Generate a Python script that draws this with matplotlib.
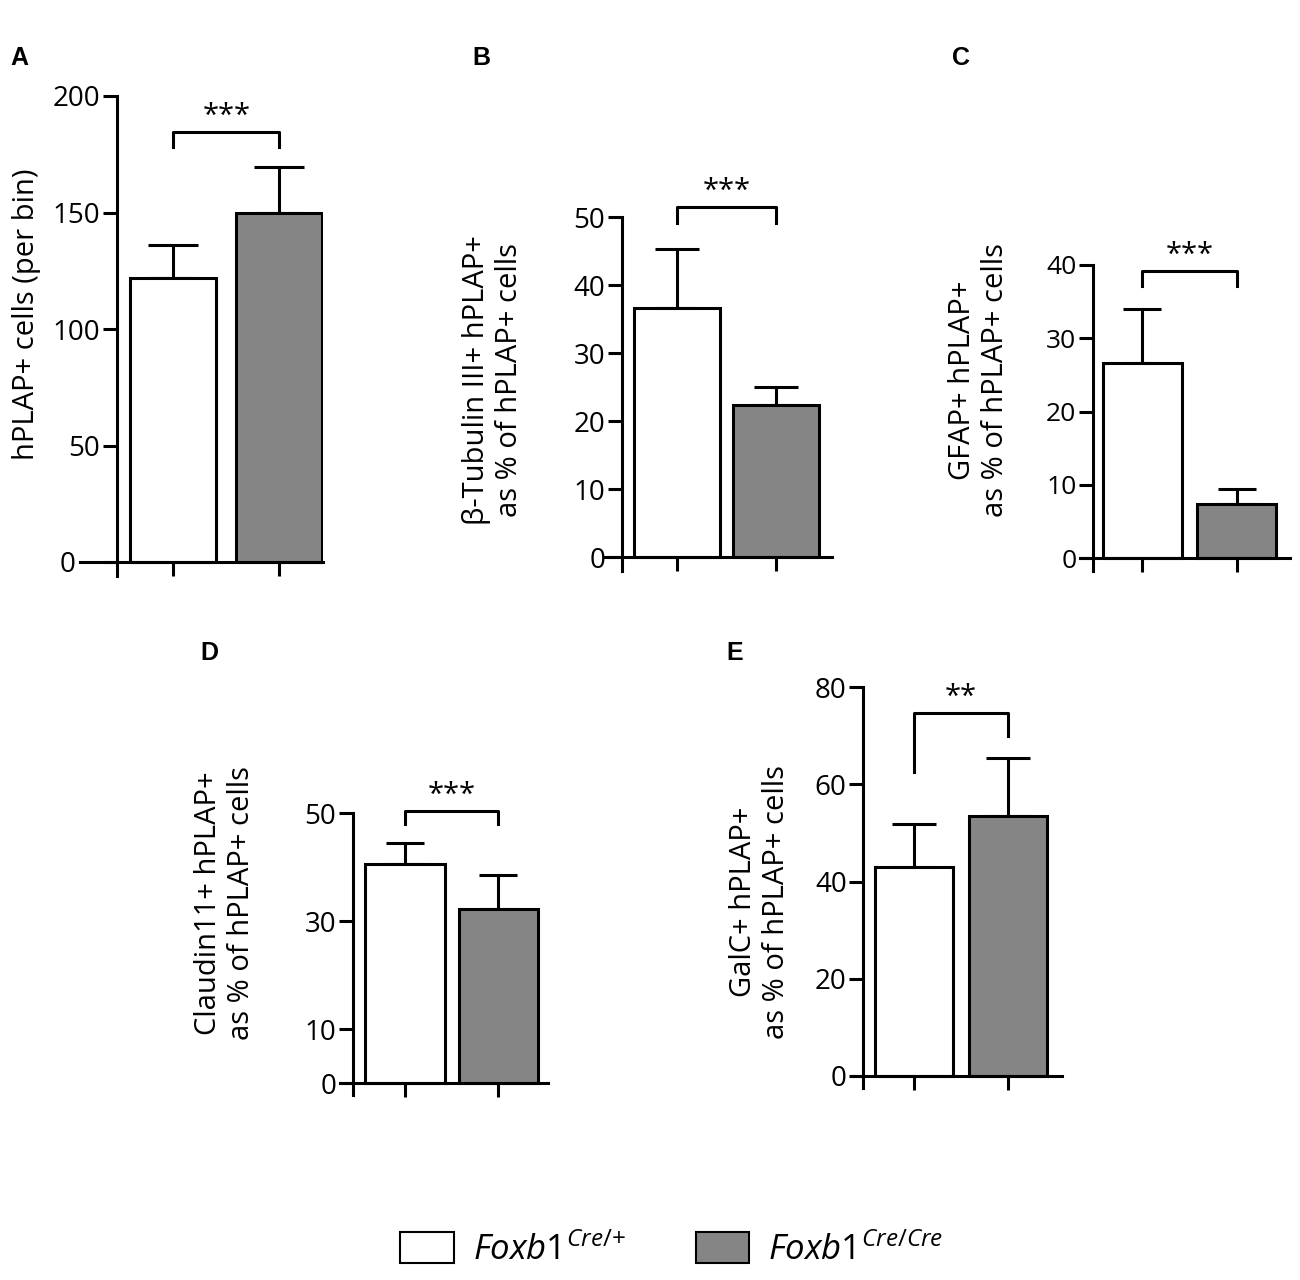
import numpy as np
import matplotlib
matplotlib.use('Agg')
import matplotlib.pyplot as plt
from matplotlib.patches import Patch

plt.rcParams['font.family'] = ['Open Sans', 'DejaVu Sans']
plt.rcParams['mathtext.fontset'] = 'custom'
plt.rcParams['mathtext.it'] = 'Open Sans:italic'
plt.rcParams['mathtext.rm'] = 'Open Sans'

W, H = 1300, 1280
WHITE = '#ffffff'
GREY = '#858585'
LW = 2.2

groups = ['Foxb1 Cre/+', 'Foxb1 Cre/Cre']

# panel data: mean and top of error bar for each group
a_mean = [122.0, 150.0]
a_err = [136.0, 169.5]
b_mean = [36.6, 22.4]
b_err = [45.3, 25.0]
c_mean = [26.6, 7.4]
c_err = [34.0, 9.4]
d_mean = [40.6, 32.2]
d_err = [44.4, 38.5]
e_mean = [43.0, 53.5]
e_err = [51.8, 65.4]

# significance brackets: height, left leg bottom, right leg bottom, label
a_sig = (184.7, 178.2, 178.2, '***')
b_sig = (51.5, 49.1, 49.1, '***')
c_sig = (39.2, 37.2, 37.2, '***')
d_sig = (50.4, 48.0, 48.0, '***')
e_sig = (74.7, 62.5, 70.0, '**')

a_ticks = [0, 50, 100, 150, 200]
b_ticks = [0, 10, 20, 30, 40, 50]
c_ticks = [0, 10, 20, 30, 40]
d_ticks = [0, 10, 30, 50]
e_ticks = [0, 20, 40, 60, 80]

fig = plt.figure(figsize=(13, 12.8), dpi=100)


def panel(mean, err, sig, ticks, lay, ylabel, letter, tsize=20, capsize=16):
    """lay: pixel layout (xstart, yaxis, tick0, tick1, xend, y0, ytop, width, ext)"""
    xstart, yaxis, t0, t1, xend, y0, ytop, width, ext = lay
    ymax = ticks[-1]
    ppu = (y0 - ytop) / ymax
    d = t1 - t0
    rect = [xstart / W, 1 - (y0 + ext) / H, (xend - xstart) / W, (y0 + ext - ytop) / H]
    ax = fig.add_axes(rect)
    ax.set_xlim((xstart - t0) / d, (xend - t0) / d)
    ax.set_ylim(-ext / ppu, ymax)
    x = np.arange(2)
    up = np.array(err) - np.array(mean)
    ax.errorbar(x, mean, yerr=[np.zeros(2), up], fmt='none', ecolor='black',
                elinewidth=LW, capsize=capsize, capthick=LW, zorder=1)
    ax.bar(x, mean, width=width, color=[WHITE, GREY], edgecolor='black',
           linewidth=LW, zorder=2)
    ax.spines['top'].set_visible(False)
    ax.spines['right'].set_visible(False)
    ax.spines['bottom'].set_position(('data', 0))
    ax.spines['left'].set_position(('data', (yaxis - t0) / d))
    for s in ('left', 'bottom'):
        ax.spines[s].set_linewidth(LW)
    ax.set_xticks(x)
    ax.set_yticks(ticks)
    ax.tick_params(axis='both', direction='out', length=10, width=LW, labelsize=tsize, pad=2)
    ax.tick_params(axis='x', labelbottom=False)
    # bracket
    h, l0, l1, txt = sig
    ax.plot([0, 0, 1, 1], [l0, h, h, l1], color='black', lw=LW, clip_on=False)
    ax.text(0.5, h + 1 / ppu, txt, ha='center', va='bottom', fontsize=21, clip_on=False)
    lx, ly = letter[1]
    fig.text(lx / W, 1 - ly / H, letter[0], fontsize=18, fontweight='bold',
             family='Liberation Sans', ha='center', va='center')
    lx, ly = ylabel[1]
    fig.text(lx / W, 1 - ly / H, ylabel[0], rotation=90, fontsize=21, ha='center',
             va='center', multialignment='center', linespacing=1.2)
    return ax


ax_a = panel(a_mean, a_err, a_sig, a_ticks,
             (80, 117, 173.3, 279.3, 323, 562, 96, 0.815, 14),
             ('hPLAP+ cells (per bin)', (27, 314)), ('A', (19, 58)), capsize=18)
# in panel A the zero label sits left of the extended baseline
ax_a.yaxis.get_major_ticks()[0].set_pad(20)

panel(b_mean, b_err, b_sig, b_ticks,
      (605, 622, 676.7, 776, 832, 557, 217, 0.87, 14),
      ('β-Tubulin III+ hPLAP+\nas % of hPLAP+ cells', (493, 380)), ('B', (481, 58)))
panel(c_mean, c_err, c_sig, c_ticks,
      (1080, 1093, 1142.3, 1236.7, 1290, 558, 265, 0.84, 13),
      ('GFAP+ hPLAP+\nas % of hPLAP+ cells', (979, 380)), ('C', (961, 58)),
      tsize=19, capsize=14)
panel(d_mean, d_err, d_sig, d_ticks,
      (340, 352.7, 405, 498.3, 548, 1083, 813, 0.85, 12),
      ('Claudin11+ hPLAP+\nas % of hPLAP+ cells', (225, 903)), ('D', (209, 653)),
      capsize=14)
panel(e_mean, e_err, e_sig, e_ticks,
      (851, 863.3, 914, 1008.3, 1062, 1076, 687, 0.83, 12),
      ('GalC+ hPLAP+\nas % of hPLAP+ cells', (760, 902)), ('E', (735, 653)))

handles = [Patch(facecolor=WHITE, edgecolor='black', linewidth=1.5),
           Patch(facecolor=GREY, edgecolor='black', linewidth=1.5)]
labels = [r'$\mathit{Foxb1}^{\mathit{Cre/{+}}}$', r'$\mathit{Foxb1}^{\mathit{Cre/Cre}}$']
fig.legend(handles, labels, loc='center', bbox_to_anchor=(0.517, 1 - 1250 / H),
           ncol=2, frameon=False, fontsize=25, handlelength=1.55, handleheight=1.0,
           handletextpad=0.55, columnspacing=2.0)

fig.savefig('out.png', dpi=100, facecolor='white')
